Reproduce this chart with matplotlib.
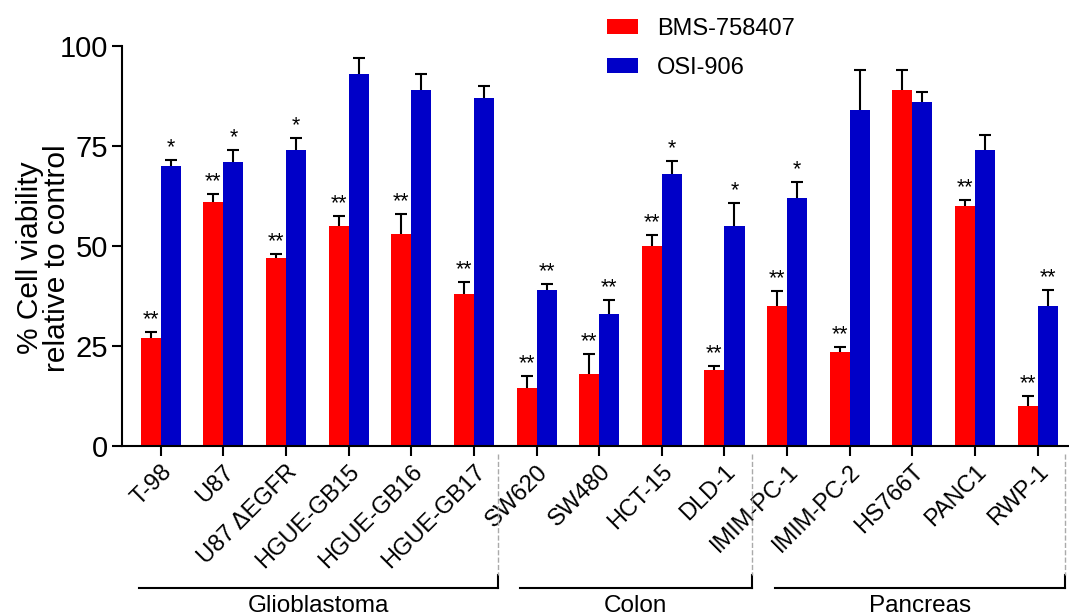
import numpy as np
import matplotlib
matplotlib.use('Agg')
import matplotlib.pyplot as plt

plt.rcParams['font.family'] = ['Liberation Sans', 'DejaVu Sans']

cells = ['T-98', 'U87', 'U87 \u0394EGFR', 'HGUE-GB15', 'HGUE-GB16', 'HGUE-GB17',
         'SW620', 'SW480', 'HCT-15', 'DLD-1',
         'IMIM-PC-1', 'IMIM-PC-2', 'HS766T', 'PANC1', 'RWP-1']
bms = [27, 61, 47, 55, 53, 38, 14.5, 18, 50, 19, 35, 23.5, 89, 60, 10]
bms_err = [1.5, 2, 1, 2.5, 5, 3, 3, 5, 2.7, 1, 3.8, 1.2, 5, 1.6, 2.5]
osi = [70, 71, 74, 93, 89, 87, 39, 33, 68, 55, 62, 84, 86, 74, 35]
osi_err = [1.5, 3, 3, 4, 4, 3, 1.6, 3.6, 3.2, 5.8, 4, 10, 2.6, 3.7, 4]
bms_sig = ['**', '**', '**', '**', '**', '**', '**', '**', '**', '**', '**', '**', '', '**', '**']
osi_sig = ['*', '*', '*', '', '', '', '**', '**', '*', '*', '*', '', '', '', '**']
groups = ['Glioblastoma', 'Colon', 'Pancreas']
group_span = [(-0.34, 5.38), (5.73, 9.44), (9.81, 14.44)]

x = np.arange(len(cells))
w = 0.32

fig = plt.figure(figsize=(10.69, 6.12), dpi=100)
ax = fig.add_axes([0.114, 0.271, 0.886, 0.654])

ax.bar(x - w/2, bms, w, color='#ff0000', label='BMS-758407', zorder=2)
ax.bar(x + w/2, osi, w, color='#0000c8', label='OSI-906', zorder=2)
# symmetric bars drawn behind, so only the upper half shows
ax.errorbar(x - w/2, bms, yerr=bms_err, fmt='none', ecolor='black',
            elinewidth=1.5, capsize=4, capthick=1.5, zorder=1)
ax.errorbar(x + w/2, osi, yerr=osi_err, fmt='none', ecolor='black',
            elinewidth=1.5, capsize=4, capthick=1.5, zorder=1)

for i in range(len(x)):
    if bms_sig[i]:
        ax.text(x[i] - w/2, bms[i] + bms_err[i] + 0.4, bms_sig[i], ha='center',
                va='bottom', fontsize=15.5)
    if osi_sig[i]:
        ax.text(x[i] + w/2, osi[i] + osi_err[i] + 0.4, osi_sig[i], ha='center',
                va='bottom', fontsize=15.5)

ax.set_xlim(-0.62, 14.5)
ax.set_ylim(0, 100)
ax.set_yticks([0, 25, 50, 75, 100])
ax.tick_params(axis='y', labelsize=21, width=1.5, length=7, pad=3)
ax.tick_params(axis='x', labelsize=17, width=1.5, length=7)
ax.set_xticks(x)
ax.set_xticklabels(cells, rotation=45, ha='right', rotation_mode='anchor')
ax.spines['top'].set_visible(False)
ax.spines['right'].set_visible(False)
ax.spines['left'].set_linewidth(1.5)
ax.spines['bottom'].set_linewidth(1.5)
ax.set_ylabel('% Cell viability\nrelative to control', fontsize=21.5,
              linespacing=0.95)
ax.yaxis.set_label_coords(-0.054, 0.47)

# group brackets under the tick labels
for name, (a, b) in zip(groups, group_span):
    ax.plot([a, b], [-35.5, -35.5], color='black', lw=1.5, clip_on=False)
    ax.plot([b, b], [-35.5, -32.3], color='black', lw=1.5, clip_on=False)
    ax.plot([b, b], [-2, -32.3], color='#aaaaaa', lw=1, ls='--', clip_on=False)
    ax.text((a + b) / 2, -37.2, name, ha='center', va='top', fontsize=17.5)

fig.legend(loc='upper left', bbox_to_anchor=(0.548, 1.005), frameon=False,
           fontsize=17, handlelength=1.3, handleheight=0.6, labelspacing=0.7,
           handletextpad=0.8)

fig.savefig('out.png', dpi=100)
